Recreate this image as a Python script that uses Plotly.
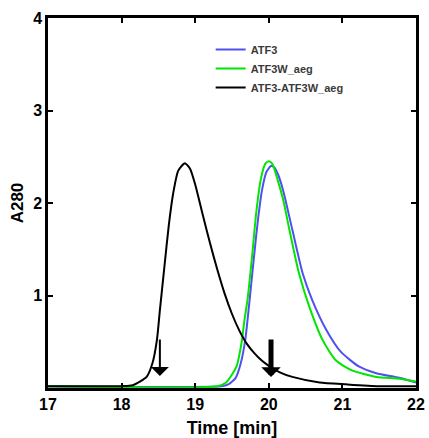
import plotly.graph_objects as go

# ATF3 (blue)
t_atf3 = [17.0, 19.35, 19.45, 19.55, 19.62, 19.68, 19.73, 19.79, 19.85, 19.91, 19.97, 20.03, 20.07, 20.13, 20.2, 20.32,
          20.46, 20.59, 20.78, 20.98, 21.23, 21.46, 21.77, 22.0]
a_atf3 = [0.02, 0.02, 0.04, 0.11, 0.27, 0.52, 0.88, 1.35, 1.8, 2.15, 2.34, 2.40, 2.39, 2.3, 2.12, 1.71,
          1.24, 0.95, 0.63, 0.39, 0.23, 0.16, 0.11, 0.06]

# ATF3W_aeg (green)
t_w = [17.0, 19.3, 19.42, 19.56, 19.63, 19.67, 19.71, 19.77, 19.83, 19.89, 19.95, 20.0, 20.05, 20.12, 20.2, 20.28,
       20.41, 20.55, 20.73, 20.91, 21.13, 21.46, 21.77, 22.0]
a_w = [0.02, 0.02, 0.06, 0.23, 0.49, 0.74, 0.95, 1.4, 1.9, 2.25, 2.42, 2.45, 2.42, 2.25, 2.02, 1.71,
       1.24, 0.88, 0.52, 0.30, 0.19, 0.12, 0.10, 0.07]

# ATF3-ATF3W_aeg (black)
t_c = [17.0, 18.0, 18.15, 18.34, 18.42, 18.48, 18.52, 18.58, 18.64, 18.7, 18.77, 18.86, 18.93, 19.0, 19.1, 19.2,
       19.3, 19.4, 19.5, 19.6, 19.7, 19.8, 19.9, 20.0, 20.15, 20.32, 20.69, 21.05, 21.5, 22.0]
a_c = [0.02, 0.02, 0.03, 0.12, 0.27, 0.52, 0.84, 1.3, 1.75, 2.1, 2.35, 2.43, 2.37, 2.2, 1.88, 1.57,
       1.28, 1.02, 0.8, 0.62, 0.48, 0.38, 0.3, 0.24, 0.17, 0.12, 0.06, 0.04, 0.02, 0.02]

series_names = ["ATF3", "ATF3W_aeg", "ATF3-ATF3W_aeg"]
series_colors = ["#5050f0", "#00e600", "#000000"]

# arrows (time, top value, tip value)
arrow_t = [18.52, 20.03]
arrow_top = [0.54, 0.54]
arrow_tip = [0.13, 0.12]
arrow_w = [2.0, 5.0]
arrow_size = [1.5, 0.65]

x_ticks = [17, 18, 19, 20, 21, 22]
y_ticks = [1, 2, 3, 4]

fig = go.Figure()
for t, a, n, c in zip([t_atf3, t_w, t_c], [a_atf3, a_w, a_c], series_names, series_colors):
    fig.add_trace(go.Scatter(x=t, y=a, mode="lines", name=n,
                             line=dict(color=c, width=2, shape="spline", smoothing=0.6)))

for xt, yt, yb, w, s in zip(arrow_t, arrow_top, arrow_tip, arrow_w, arrow_size):
    fig.add_annotation(x=xt, y=yb, ax=xt, ay=yt, xref="x", yref="y", axref="x", ayref="y",
                       showarrow=True, arrowhead=1, arrowsize=s,
                       arrowwidth=w, arrowcolor="black", text="")

fig.update_layout(
    width=429, height=438,
    margin=dict(l=48, r=13, t=18, b=50, autoexpand=False),
    paper_bgcolor="white", plot_bgcolor="white",
    font=dict(family="Liberation Sans, Arial", color="black"),
    showlegend=True,
    legend=dict(x=0.442, y=0.954, xanchor="left", yanchor="top",
                font=dict(size=11, color="#3a3a3a", weight="bold"),
                bgcolor="rgba(0,0,0,0)", itemwidth=30, tracegroupgap=0),
    xaxis=dict(range=[17, 22], tickvals=x_ticks, ticktext=[str(v) for v in x_ticks],
               ticks="inside", ticklen=5, tickwidth=1.5, tickcolor="black",
               showline=True, linecolor="black", linewidth=2.5, mirror="ticks",
               showgrid=False, zeroline=False, automargin=False,
               tickfont=dict(size=16, weight="bold"),
               title=dict(text="Time [min]", font=dict(size=18, weight="bold"), standoff=10)),
    yaxis=dict(range=[0, 4], tickvals=y_ticks, ticktext=[str(v) for v in y_ticks],
               ticks="inside", ticklen=5, tickwidth=1.5, tickcolor="black",
               showline=True, linecolor="black", linewidth=2.5, mirror="ticks",
               showgrid=False, zeroline=False, automargin=False,
               tickfont=dict(size=16, weight="bold"),
               title=dict(text="A280", font=dict(size=17, weight="bold"), standoff=6)),
)

fig.write_html("out.html", config={"displayModeBar": False},
               post_script="document.body.style.margin='0';document.body.style.overflow='hidden';")
